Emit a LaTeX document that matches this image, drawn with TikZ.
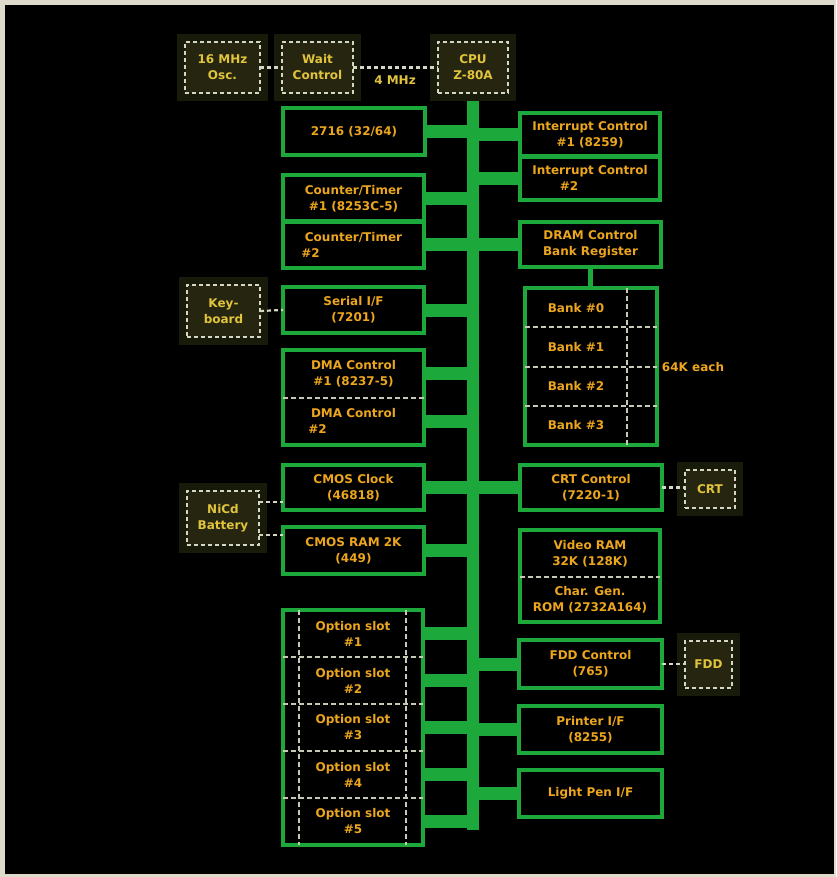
\documentclass[tikz,border=0pt]{standalone}
\usepackage{fontspec}
\setmainfont{DejaVu Sans}
\definecolor{grn}{RGB}{28,168,58}
\definecolor{amber}{RGB}{236,166,30}
\definecolor{yel}{RGB}{226,196,60}
\definecolor{dashw}{RGB}{214,214,196}
\definecolor{olv}{RGB}{38,38,16}
\definecolor{glowc}{RGB}{24,26,10}
\definecolor{paper}{RGB}{222,218,204}
\definecolor{divc}{RGB}{200,200,180}
\tikzset{
  lbl/.style={font=\bfseries\fontsize{12}{16}\selectfont, align=center},
  gbox/.style={lbl, draw=grn, line width=4.5pt, fill=black, inner sep=0pt, outer sep=0pt, anchor=north west, text=amber},
  slotbox/.style={lbl, draw=none, inner sep=0pt, outer sep=0pt, anchor=north west, text=amber},
  dbox/.style={lbl, draw=dashw, line width=2.2pt, dash pattern=on 4pt off 3pt, fill=olv, inner sep=0pt, outer sep=0pt, anchor=north west, text=yel,
    preaction={draw=glowc, line width=16pt, solid, rounded corners=6pt}},
  brline/.style={draw=grn, line width=13pt},
  busline/.style={draw=grn, line width=12pt},
  dcon/.style={draw=dashw, line width=2.2pt, dash pattern=on 4pt off 3pt},
  ddiv/.style={draw=divc, line width=2pt, dash pattern=on 5pt off 3pt},
  gline/.style={draw=grn, line width=4.5pt},
}
\begin{document}
\begin{tikzpicture}[x=1pt,y=-1pt]
\useasboundingbox (0,0) rectangle (836,877);
\fill[paper] (0,0) rectangle (836,877);
\fill[black] (5,5) rectangle (834,874);

% bus
\coordinate (bustop) at (473,93);
\coordinate (busbot) at (473,830);
\draw[busline] (bustop) -- (busbot);

% top row
\node[dbox, minimum width=75pt, minimum height=51pt] (osc) at (185,42) {16 MHz\\Osc.};
\node[dbox, minimum width=71pt, minimum height=51pt] (wait) at (282,42) {Wait\\Control};
\node[dbox, minimum width=70pt, minimum height=51pt] (cpu) at (438,42) {CPU\\Z-80A};
\draw[dcon] (osc.east) -- (wait.west);
\draw[dcon] (wait.east) -- (cpu.west);
\node[lbl, text=yel] (mhz) at (395,80) {4 MHz};

% left column
\node[gbox, minimum width=142pt, minimum height=47pt] (rom) at (283,108) {2716 (32/64)};
\node[gbox, minimum width=141pt, minimum height=46.5pt] (ct1) at (283,175) {Counter/Timer\\\#1 (8253C-5)};
\node[gbox, minimum width=141pt, minimum height=46.5pt] (ct2) at (283,221.5) {Counter/Timer\\\#2\hspace*{86pt}};
\node[dbox, minimum width=73pt, minimum height=52pt] (kb) at (187,285) {Key-\\board};
\node[gbox, minimum width=141pt, minimum height=46pt] (ser) at (283,287) {Serial I/F\\(7201)};
\draw[dcon] (kb.east) -- (ser.west);
\node[gbox, minimum width=141pt, minimum height=95pt] (dma) at (283,350) {};
\node[slotbox, minimum width=141pt, minimum height=47.5pt] (dma1) at (283,350) {DMA Control\\\#1 (8237-5)};
\node[slotbox, minimum width=141pt, minimum height=47.5pt] (dma2) at (283,397.5) {DMA Control\\\#2\hspace*{72pt}};
\draw[ddiv] (dma1.south west) -- (dma1.south east);
\node[gbox, minimum width=141pt, minimum height=45pt] (clk) at (283,465) {CMOS Clock\\(46818)};
\node[gbox, minimum width=141pt, minimum height=47pt] (cram) at (283,527) {CMOS RAM 2K\\(449)};
\node[dbox, minimum width=72pt, minimum height=54pt] (bat) at (187,491) {NiCd\\Battery};
\draw[dcon] ([yshift=-11pt]bat.north east) -- ([yshift=-11pt]bat.north east -| clk.west);
\draw[dcon] ([yshift=10pt]bat.south east) -- ([yshift=10pt]bat.south east -| cram.west);

% option slots
\node[gbox, minimum width=140pt, minimum height=235pt] (opt) at (283,610) {};
\foreach \i in {1,...,5}{
  \node[slotbox, minimum width=140pt, minimum height=47pt] (os\i) at (283,{610+47*(\i-1)}) {Option slot\\\#\i};
}
\foreach \i in {1,...,4}{
  \draw[ddiv] (os\i.south west) -- (os\i.south east);
}
\draw[ddiv] ([xshift=16pt]opt.north west) -- ([xshift=16pt]opt.south west);
\draw[ddiv] ([xshift=-17pt]opt.north east) -- ([xshift=-17pt]opt.south east);

% right column
\node[gbox, minimum width=140pt, minimum height=43.5pt] (ic1) at (520,113) {Interrupt Control\\\#1 (8259)};
\node[gbox, minimum width=140pt, minimum height=43.5pt] (ic2) at (520,156.5) {Interrupt Control\\\hspace*{26pt}\#2\hspace*{68pt}};
\node[gbox, minimum width=141pt, minimum height=45pt] (dram) at (520,222) {DRAM Control\\Bank Register};
\node[gbox, minimum width=132pt, minimum height=157pt] (banks) at (525,288) {};
\foreach \i in {0,...,3}{
  \node[slotbox, minimum width=102pt, minimum height=39.25pt] (bk\i) at (525,{288+39.25*\i}) {Bank \#\i};
}
\foreach \i in {0,...,2}{
  \draw[ddiv] (bk\i.south west) -- (bk\i.south west -| banks.east);
}
\draw[ddiv] (bk0.north east) -- (bk3.south east);
\draw[gline] (dram.south) -- (dram.south |- banks.north);
\node[lbl, text=amber] (each) at (693,367) {64K each};

\node[gbox, minimum width=142pt, minimum height=45pt] (crtc) at (520,465) {CRT Control\\(7220-1)};
\node[dbox, minimum width=50pt, minimum height=38pt] (crt) at (685,470) {CRT};
\draw[dcon] (crtc.east) -- (crtc.east -| crt.west);

\node[gbox, minimum width=140pt, minimum height=92pt] (vram) at (520,530) {};
\node[slotbox, minimum width=140pt, minimum height=47pt] (vr1) at (520,530) {Video RAM\\32K (128K)};
\node[slotbox, minimum width=140pt, minimum height=45pt] (vr2) at (520,577) {Char. Gen.\\ROM (2732A164)};
\draw[ddiv] (vr1.south west) -- (vr1.south east);

\node[gbox, minimum width=143pt, minimum height=48pt] (fddc) at (519,640) {FDD Control\\(765)};
\node[dbox, minimum width=47pt, minimum height=47pt] (fdd) at (685,641) {FDD};
\draw[dcon] (fddc.east) -- (fddc.east -| fdd.west);
\node[gbox, minimum width=143pt, minimum height=47pt] (prn) at (519,706) {Printer I/F\\(8255)};
\node[gbox, minimum width=143pt, minimum height=47pt] (pen) at (519,770) {Light Pen I/F};

% branches
\foreach \n in {rom,ct1,ct2,ser,dma1,dma2,clk,cram,os1,os2,os3,os4,os5}{
  \draw[brline] (\n.east -| opt.east) -- (\n.east -| bustop);
}
\foreach \n in {ic1,ic2,dram,crtc,fddc,prn,pen}{
  \draw[brline] (\n.west) -- (\n.west -| bustop);
}
\end{tikzpicture}
\end{document}
